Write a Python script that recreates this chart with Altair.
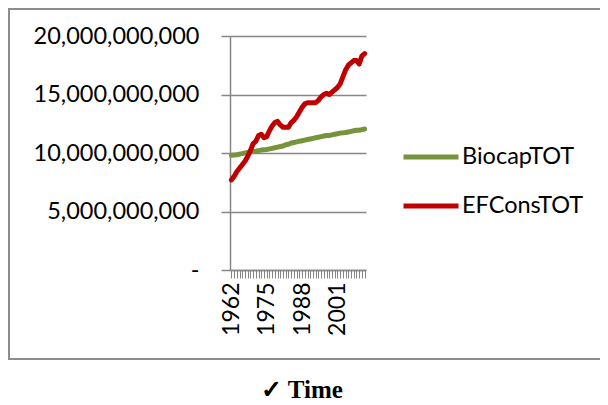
import altair as alt
import pandas as pd

years = list(range(1962, 2012))
biocap_bn = [9.80, 9.82, 9.85, 9.90, 9.95, 10.00, 10.05, 10.10, 10.12, 10.15,
             10.20, 10.25, 10.28, 10.30, 10.35, 10.40, 10.45, 10.50, 10.55, 10.60,
             10.70, 10.75, 10.85, 10.90, 10.95, 11.00, 11.05, 11.10, 11.15, 11.20,
             11.25, 11.30, 11.35, 11.40, 11.45, 11.50, 11.50, 11.55, 11.60, 11.65,
             11.70, 11.72, 11.75, 11.80, 11.85, 11.90, 11.95, 11.95, 12.00, 12.05]
efcons_bn = [7.70, 8.00, 8.40, 8.70, 9.00, 9.30, 9.70, 10.20, 10.80, 11.00,
             11.50, 11.60, 11.30, 11.40, 11.90, 12.30, 12.60, 12.70, 12.40, 12.20,
             12.20, 12.20, 12.60, 12.80, 13.10, 13.50, 13.90, 14.20, 14.30, 14.30,
             14.30, 14.30, 14.50, 14.80, 15.00, 15.10, 15.00, 15.20, 15.40, 15.60,
             15.90, 16.50, 17.10, 17.50, 17.70, 17.90, 17.90, 17.60, 18.30, 18.50]
series_names = ["BiocapTOT", "EFConsTOT"]
series_colors = ["#77933C", "#C00000"]
label_years = [1962, 1975, 1988, 2001]
y_ticks = [0, 5e9, 1e10, 1.5e10, 2e10]

rows = []
for name, vals in zip(series_names, [biocap_bn, efcons_bn]):
    for yr, v in zip(years, vals):
        rows.append({"year": yr, "value": v * 1e9, "series": name})
df = pd.DataFrame(rows)

GRAY = "#868686"
FONT = "Lato"

label_expr = "indexof([" + ",".join(str(y) for y in label_years) + "], datum.value) >= 0 ? datum.label : ''"

lines = alt.Chart(df).mark_line(strokeWidth=5, strokeCap="round", strokeJoin="round").encode(
    x=alt.X("year:Q",
            scale=alt.Scale(domain=[1961.5, 2011.5], nice=False, zero=False),
            axis=alt.Axis(values=years, format="d", labelExpr=label_expr,
                          labelAngle=-90, labelOverlap=False, labelFlush=False,
                          labelPadding=4, tickSize=8, tickColor=GRAY, tickWidth=1,
                          domainColor=GRAY, domainWidth=1.5, grid=False,
                          labelFont=FONT, labelFontSize=23, labelColor="#000000",
                          title=None)),
    y=alt.Y("value:Q",
            scale=alt.Scale(domain=[0, 2e10], nice=False),
            axis=alt.Axis(values=y_ticks,
                          labelExpr="datum.value == 0 ? '-\u00a0\u00a0' : format(datum.value, ',')",
                          tickSize=9, tickColor=GRAY, tickWidth=1.5,
                          domainColor=GRAY, domainWidth=1.5,
                          grid=True, gridColor=GRAY, gridWidth=1.5,
                          labelPadding=22, labelFont=FONT, labelFontSize=23.5,
                          labelColor="#000000", title=None)),
    color=alt.Color("series:N",
                    scale=alt.Scale(domain=series_names, range=series_colors),
                    legend=alt.Legend(title=None, orient="none", legendX=171, legendY=91,
                                      symbolType="stroke", symbolSize=3025,
                                      symbolStrokeWidth=5, labelFont=FONT,
                                      labelFontSize=23.5, labelColor="#000000",
                                      labelOffset=1, rowPadding=7, padding=0)),
)

border = alt.Chart(alt.Data(values=[{}])).mark_rect(
    fill="transparent", stroke="#8c8c8c", strokeWidth=2
).encode(x=alt.value(-221), x2=alt.value(400), y=alt.value(-27), y2=alt.value(323))

chart = alt.layer(border, lines).properties(
    width=136, height=234,
    autosize=alt.AutoSizeParams(type="none"),
    padding={"left": 222, "top": 28, "right": 234, "bottom": 135},
    title=alt.TitleParams("\u2713 Time", orient="bottom", anchor="middle",
                          font="Liberation Serif", fontWeight="bold", fontSize=25,
                          color="#000000", offset=18, dx=4),
).configure_view(strokeWidth=0)

chart.save("out.html", embed_options={"renderer": "svg", "actions": False})
